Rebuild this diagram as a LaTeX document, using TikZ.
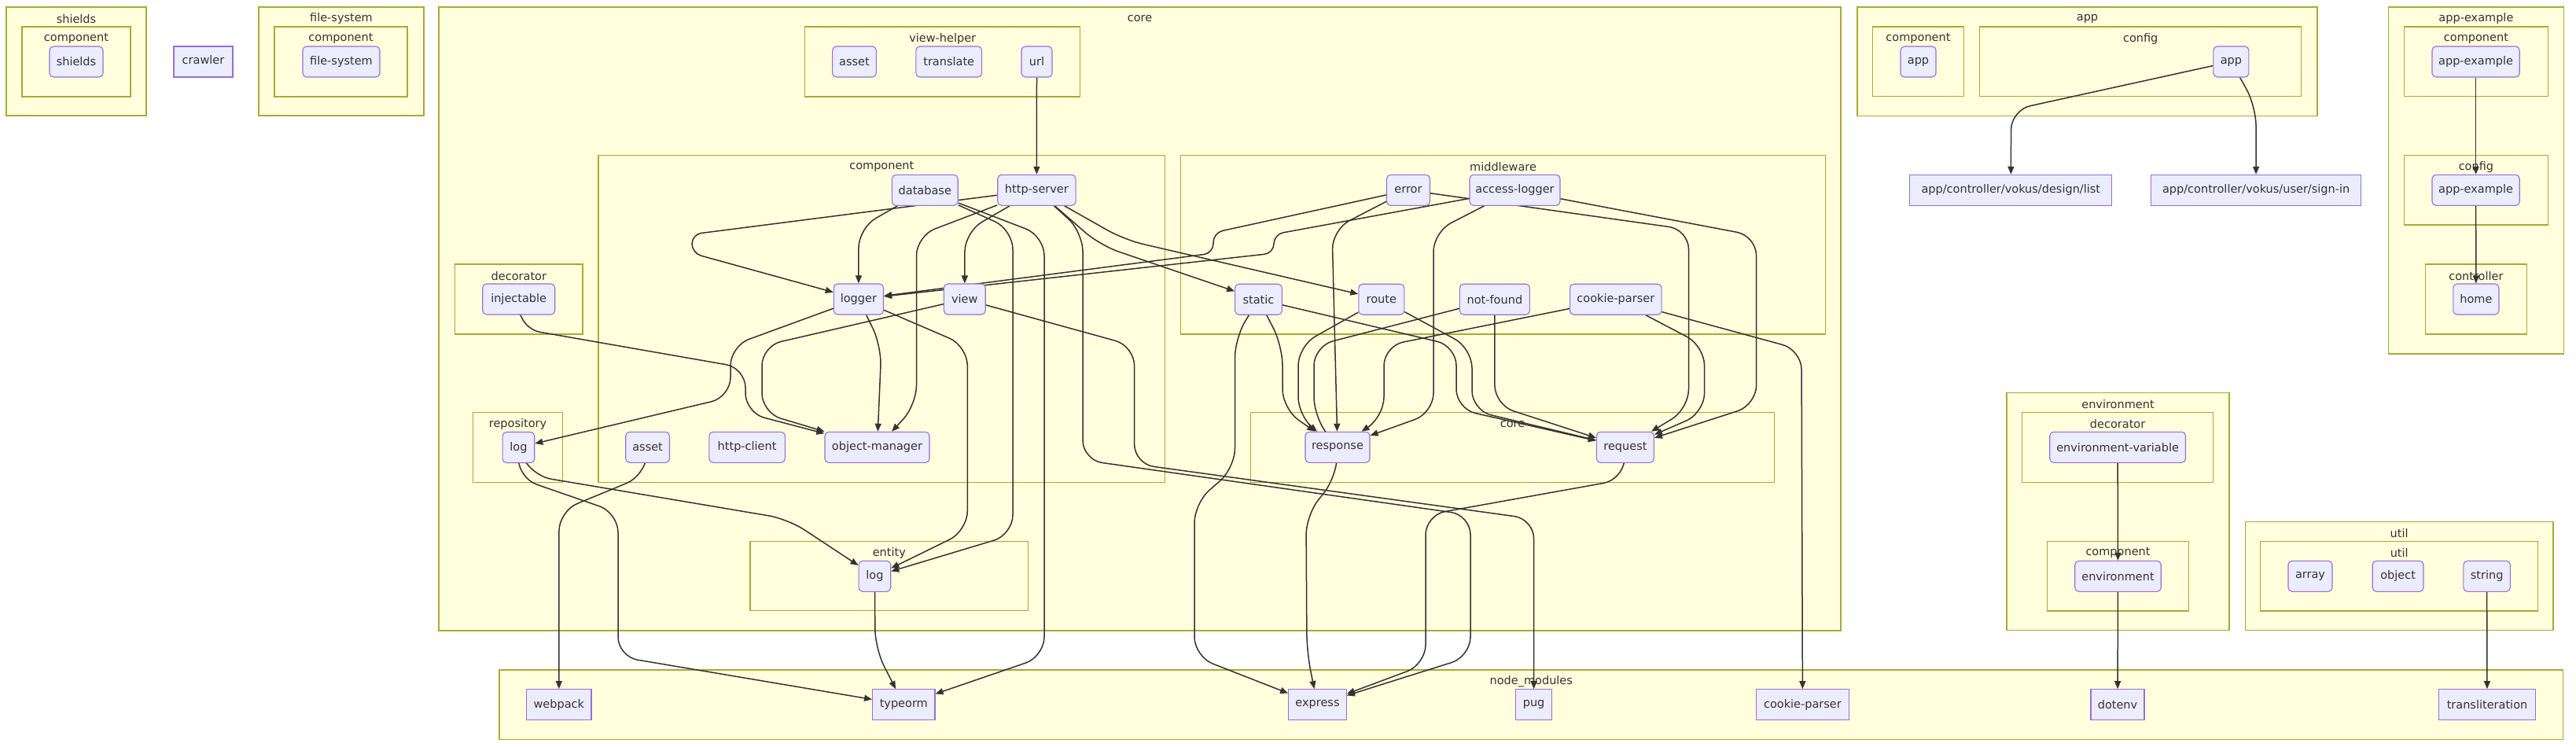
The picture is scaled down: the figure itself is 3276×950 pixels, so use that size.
\documentclass[tikz,border=0pt]{standalone}
\usepackage{fontspec}
\setmainfont{DejaVu Sans}
\usetikzlibrary{arrows.meta}
\definecolor{clfill}{HTML}{FFFFDE}
\definecolor{clline}{HTML}{AAAA33}
\definecolor{ndfill}{HTML}{ECECFF}
\definecolor{ndline}{HTML}{9370DB}
\definecolor{txt}{HTML}{333333}
\pgfdeclarelayer{bg}
\pgfdeclarelayer{edges}
\pgfsetlayers{bg,edges,main}
\tikzset{
  nd/.style={draw=ndline, fill=ndfill, line width=1.1pt, rounded corners=5pt,
    minimum height=39pt, inner sep=0pt, text=txt, font=\fontsize{14.5}{17}\selectfont},
  sq/.style={nd, rounded corners=0pt},
  cl/.style={draw=clline, fill=clfill, line width=1.1pt},
  cltitle/.style={text=txt, inner sep=0pt, font=\fontsize{14.5}{17}\selectfont},
  edge/.style={draw=txt, line width=1.5pt, rounded corners=25pt,
    -{Triangle[length=10pt,width=8pt]}},
}
\newcommand\clu[6]{\draw[cl] (#2,#3) rectangle (#4,#5);
  \node[cltitle] (#1) at ({(#2+#4)/2},{#3+15}) {#6};}
\begin{document}
\begin{tikzpicture}[x=1pt,y=-1pt]
\useasboundingbox (0,0) rectangle (3276,950);
\begin{pgfonlayer}{bg}
\fill[white] (0,0) rectangle (3276,950);
\clu{shieldsC}{8}{9}{186}{147}{shields}
\clu{shieldsComp}{28}{34}{166}{123}{component}
\clu{fsC}{329}{9}{539}{147}{file-system}
\clu{fsComp}{349}{34}{518}{123}{component}
\clu{coreC}{558}{9}{2341}{802}{core}
\clu{vhC}{1023.6}{34}{1373.8}{123}{view-helper}
\clu{compC}{761}{197.3}{1481.6}{613.3}{component}
\clu{mwC}{1501.7}{197.3}{2321.4}{425}{middleware}
\clu{decC}{578.7}{336}{741}{425}{decorator}
\clu{repoC}{601.7}{524.3}{715.3}{613.3}{repository}
\clu{entC}{954}{688.3}{1307.7}{776.7}{entity}
\clu{coreIn}{1590.6}{524.3}{2256.5}{613.3}{core}
\clu{nmC}{635}{852}{3259.5}{940.7}{node\_modules}
\clu{appC}{2362}{9}{2947}{147.3}{app}
\clu{appComp}{2381.5}{34}{2497.4}{122.7}{component}
\clu{appCfg}{2517.7}{34}{2926.7}{122.7}{config}
\clu{aeC}{3037.3}{9}{3260.5}{450}{app-example}
\clu{aeComp}{3057.6}{34}{3240.2}{122.7}{component}
\clu{aeCfg}{3057.6}{197.3}{3240.2}{286}{config}
\clu{aeCtl}{3084.4}{336}{3213.4}{425}{controller}
\clu{envC}{2552}{499.3}{2835}{801.7}{environment}
\clu{envDec}{2571.5}{524.3}{2814.7}{613.3}{decorator}
\clu{envComp}{2603.6}{688.3}{2783.4}{777}{component}
\clu{utilC}{2855.3}{663.3}{3247}{801.7}{util}
\clu{utilIn}{2874.9}{688.3}{3227.5}{777}{util}
\end{pgfonlayer}

% nodes
\node[nd, minimum width=68] (shields) at (97,78.5) {shields};
\node[sq, minimum width=75, text depth=6pt] (crawler) at (258.5,78.5) {crawler};
\node[nd, minimum width=98] (filesystem) at (434,78.5) {file-system};
\node[nd, minimum width=55.7] (vhasset) at (1086.5,78.5) {asset};
\node[nd, minimum width=83.8] (translate) at (1206.7,78.5) {translate};
\node[nd, minimum width=39] (url) at (1318.5,78.5) {url};
\node[nd, minimum width=83.8] (database) at (1176.3,241.8) {database};
\node[nd, minimum width=99.3] (httpserver) at (1318.4,241.8) {http-server};
\node[nd, minimum width=92] (injectable) at (659.7,380.5) {injectable};
\node[nd, minimum width=63.2] (logger) at (1091.9,380.5) {logger};
\node[nd, minimum width=52.8] (view) at (1226.8,380.5) {view};
\node[nd, minimum width=55] (error) at (1791,241.8) {error};
\node[nd, minimum width=115] (accesslogger) at (1926.5,241.8) {access-logger};
\node[nd, minimum width=59.7] (static) at (1600.5,380.7) {static};
\node[nd, minimum width=58] (route) at (1756.8,380.7) {route};
\node[nd, minimum width=89] (notfound) at (1900.9,380.7) {not-found};
\node[nd, minimum width=116.5] (cookieparser) at (2054.8,380.7) {cookie-parser};
\node[nd, minimum width=82] (response) at (1701,568.8) {response};
\node[nd, minimum width=73] (request) at (2066.9,568.8) {request};
\node[nd, minimum width=40.7] (logrepo) at (659.4,569) {log};
\node[nd, minimum width=55.7] (assetc) at (823.6,568.8) {asset};
\node[nd, minimum width=96.4] (httpclient) at (950.1,568.8) {http-client};
\node[nd, minimum width=133] (objectmanager) at (1115.5,568.8) {object-manager};
\node[nd, minimum width=40.7] (logentity) at (1112.4,732.8) {log};
\node[sq, minimum width=82.3] (webpack) at (710.8,896.2) {webpack};
\node[sq, minimum width=79.4] (typeorm) at (1149.3,896.2) {typeorm};
\node[sq, minimum width=73.6] (express) at (1675.5,896.2) {express};
\node[sq, minimum width=46] (pug) at (1950.6,896.2) {pug};
\node[sq, minimum width=117.3] (cookieparsernm) at (2292.4,896.2) {cookie-parser};
\node[sq, minimum width=68] (dotenv) at (2693,896.2) {dotenv};
\node[sq, minimum width=122.8] (transliteration) at (3163,896.2) {transliteration};
\node[nd, minimum width=172.8] (envvar) at (2693.1,568.8) {environment-variable};
\node[nd, minimum width=109.5] (environment) at (2693.5,732.8) {environment};
\node[nd, minimum width=56] (array) at (2938,732.8) {array};
\node[nd, minimum width=64.8] (object) at (3049.6,732.8) {object};
\node[nd, minimum width=59.4] (string) at (3162.6,732.8) {string};
\node[nd, minimum width=45] (appc) at (2439.5,78.5) {app};
\node[nd, minimum width=45] (appcfg) at (2837.4,78.5) {app};
\node[sq, minimum width=257.2] (designlist) at (2557.3,241.8) {app/controller/vokus/design/list};
\node[sq, minimum width=267] (signin) at (2869.1,241.8) {app/controller/vokus/user/sign-in};
\node[nd, minimum width=111.2] (aecomp) at (3148.6,78.5) {app-example};
\node[nd, minimum width=111.2] (aecfg) at (3148.6,241.8) {app-example};
\node[nd, minimum width=58.2] (home) at (3148.9,380.5) {home};

\begin{pgfonlayer}{edges}
\draw[edge] (url) -- (httpserver);
\draw[edge, rounded corners=12] (httpserver) -- (880,298) -- (880,322) -- (logger);
\draw[edge] (database) -- (1092,290) -- (logger);
\draw[edge] (database) -- (1288,292) -- (1288,680) -- (logentity);
\draw[edge] (database) -- (1328,300) -- (1328,835) -- (typeorm);
\draw[edge] (httpserver) -- (1165.5,300) -- (1165.5,515) -- (objectmanager);
\draw[edge] (httpserver) -- (1227,295) -- (view);
\draw[edge] (httpserver) -- (1377,295) -- (1377,585) -- (1870,655) -- (1870,835) -- (express);
\draw[edge] (httpserver) -- (1399,312) -- (static);
\draw[edge] (httpserver) -- (1430,305) -- (route);
\draw[edge] (view) -- (1442.6,440) -- (1442.6,590) -- (1950.6,660) -- (pug);
\draw[edge, rounded corners=12] (error) -- (1543,296) -- (1543,322) -- (logger);
\draw[edge, rounded corners=12] (accesslogger) -- (1620,298) -- (1620,322) -- (logger);
\draw[edge] (error) -- (1694,292) -- (response);
\draw[edge] (error) -- (2147.5,292) -- (2147.5,520) -- (request);
\draw[edge] (accesslogger) -- (2233.6,300) -- (2233.6,515) -- (request);
\draw[edge] (accesslogger) -- (1823,295) -- (1823,525) -- (response);
\draw[edge] (static) -- (1631,440) -- (1631,520) -- (response);
\draw[edge] (static) -- (1570.5,430) -- (1570.5,595) -- (1519,640) -- (1519,835) -- (express);
\draw[edge] (static) -- (1852,440) -- (1852,520) -- (request);
\draw[edge] (route) -- (1651,440) -- (1651,530) -- (response);
\draw[edge] (route) -- (1872,443) -- (1872,522) -- (request);
\draw[edge] (notfound) -- (1671,440) -- (1671,530) -- (response);
\draw[edge] (notfound) -- (1900.9,515) -- (request);
\draw[edge] (cookieparser) -- (1760,440) -- (1760,530) -- (response);
\draw[edge] (cookieparser) -- (2167.6,440) -- (2167.6,525) -- (request);
\draw[edge] (cookieparser) -- (2291,445) -- (cookieparsernm);
\draw[edge] (response) -- (1699,608) -- (1661,655) -- (1662,830) -- (express);
\draw[edge] (request) -- (2064,610) -- (1813,655) -- (1813,845) -- (express);
\draw[edge] (injectable) -- (662,418) -- (948,468) -- (948,525) -- (objectmanager);
\draw[edge] (logger) -- (1121,440) -- (objectmanager);
\draw[edge] (logger) -- (929,440) -- (929,505) -- (logrepo);
\draw[edge] (view) -- (969,440) -- (969,525) -- (objectmanager);
\draw[edge] (logger) -- (1230.3,440) -- (1230.3,675) -- (logentity);
\draw[edge] (logrepo) -- (676,605) -- (1002,660) -- (logentity);
\draw[edge] (logrepo) -- (659,608) -- (786,652) -- (786,835) -- (typeorm);
\draw[edge] (assetc) -- (820,605) -- (711,650) -- (webpack);
\draw[edge] (logentity) -- (1113,825) -- (typeorm);
\draw[edge] (appcfg) -- (2557.6,140) -- (designlist);
\draw[edge] (appcfg) -- (2869,135) -- (signin);
\draw[edge] (aecomp) -- (aecfg);
\draw[edge] (aecfg) -- (home);
\draw[edge] (envvar) -- (environment);
\draw[edge] (environment) -- (dotenv);
\draw[edge] (string) -- (transliteration);
\end{pgfonlayer}
\end{tikzpicture}
\end{document}
